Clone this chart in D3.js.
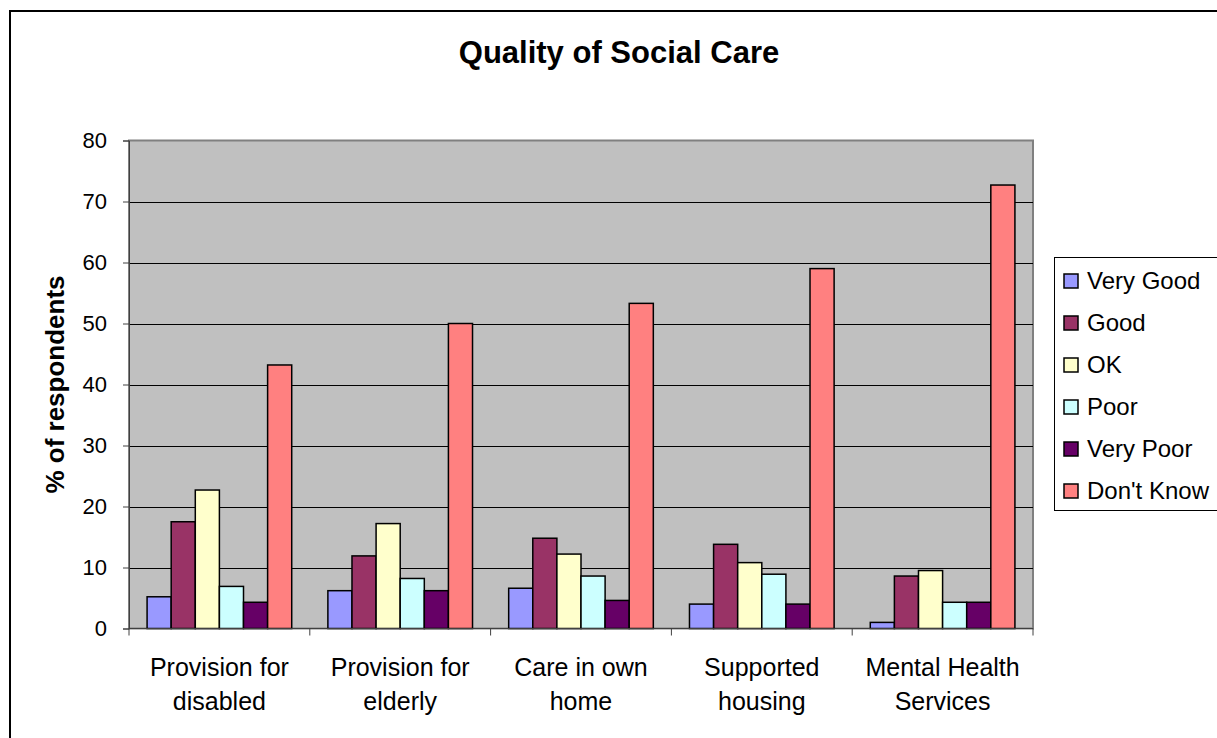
<!DOCTYPE html>
<html>
<head>
<meta charset="utf-8">
<script src="https://cdn.jsdelivr.net/npm/d3@7"></script>
<style>
	body { margin: 0; background: white; }
	svg { display: block; font-family: 'Liberation Sans', Arial, sans-serif; }
</style>
</head>
<body>
<svg width="1217" height="738"></svg>
<script>
// categories, split in two lines like the original labels
let categories = [
	['Provision for', 'disabled'],
	['Provision for', 'elderly'],
	['Care in own', 'home'],
	['Supported', 'housing'],
	['Mental Health', 'Services']
];
let seriesNames = ['Very Good', 'Good', 'OK', 'Poor', 'Very Poor', "Don't Know"];

let veryGood = [5.2, 6.2, 6.6, 4.0, 1.0];
let good = [17.5, 11.9, 14.8, 13.8, 8.6];
let ok = [22.7, 17.2, 12.2, 10.8, 9.5];
let poor = [6.9, 8.2, 8.6, 8.9, 4.3];
let veryPoor = [4.3, 6.2, 4.6, 4.0, 4.3];
let dontKnow = [43.2, 50.0, 53.3, 59.0, 72.7];

let yTicks = [0, 10, 20, 30, 40, 50, 60, 70, 80];

let seriesColor = {
	'Very Good': '#9999FF',
	'Good': '#993366',
	'OK': '#FFFFCC',
	'Poor': '#CCFFFF',
	'Very Poor': '#660066',
	"Don't Know": '#FF8080'
};

let seriesValues = [veryGood, good, ok, poor, veryPoor, dontKnow];
let catKeys = categories.map(c => c.join(' '));

let data = [];
catKeys.map(function(cat, i) {
	seriesNames.map(function(s, j) {
		data.push({ cat: cat, series: s, value: seriesValues[j][i] });
	});
});

let svg = d3.select('svg');

// outer chart frame
svg.append('rect')
	.attr('x', 10)
	.attr('y', 11)
	.attr('width', 1240)
	.attr('height', 760)
	.attr('fill', 'white')
	.attr('stroke', 'black')
	.attr('stroke-width', 2);

let pLeft = 129, pRight = 1033, pTop = 140.5, pBottom = 628.5;

let x0 = d3.scaleBand()
	.domain(catKeys)
	.range([pLeft, pRight])
	.padding(0);

let x1 = d3.scaleBand()
	.domain(seriesNames)
	.range([0, x0.bandwidth()])
	.paddingInner(0)
	.paddingOuter(0.75);

let y = d3.scaleLinear()
	.domain([0, 80])
	.range([pBottom, pTop]);

// plot area
svg.append('rect')
	.attr('x', pLeft)
	.attr('y', pTop)
	.attr('width', pRight - pLeft)
	.attr('height', pBottom - pTop)
	.attr('fill', '#C0C0C0')
	.attr('stroke', '#808080')
	.attr('stroke-width', 2);

// gridlines
svg.append('g')
	.selectAll('line')
	.data(yTicks.filter(t => t > 0 && t < 80))
	.enter()
	.append('line')
	.attr('x1', pLeft)
	.attr('x2', pRight)
	.attr('y1', d => Math.round(y(d)) + 0.5)
	.attr('y2', d => Math.round(y(d)) + 0.5)
	.attr('stroke', 'black')
	.attr('stroke-width', 1);

// bars
svg.append('g')
	.selectAll('rect')
	.data(data)
	.enter()
	.append('rect')
	.attr('x', d => x0(d.cat) + x1(d.series))
	.attr('y', d => y(d.value))
	.attr('width', x1.bandwidth())
	.attr('height', d => y(0) - y(d.value))
	.attr('fill', d => seriesColor[d.series])
	.attr('stroke', 'black')
	.attr('stroke-width', 1.5);

// y axis
let yAxis = d3.axisLeft(y)
	.tickValues(yTicks)
	.tickSize(6)
	.tickPadding(16)
	.tickFormat(d3.format('d'));

let yg = svg.append('g')
	.attr('transform', 'translate(' + pLeft + ', 0)')
	.call(yAxis);
yg.select('.domain').attr('stroke', '#404040').attr('stroke-width', 1);
yg.selectAll('.tick line').attr('stroke', '#404040');
yg.selectAll('.tick text')
	.attr('font-size', 22)
	.attr('fill', 'black')
	.attr('font-family', "'Liberation Sans', Arial, sans-serif");

// x axis: ticks between categories
let xg = svg.append('g');
xg.append('line')
	.attr('x1', pLeft)
	.attr('x2', pRight)
	.attr('y1', pBottom)
	.attr('y2', pBottom)
	.attr('stroke', '#404040');
xg.selectAll('.xtick')
	.data(catKeys.concat(['end']))
	.enter()
	.append('line')
	.attr('x1', (d, i) => pLeft + i * x0.step())
	.attr('x2', (d, i) => pLeft + i * x0.step())
	.attr('y1', pBottom)
	.attr('y2', pBottom + 7)
	.attr('stroke', '#404040');

let xl = xg.selectAll('.xlab')
	.data(categories)
	.enter()
	.append('text')
	.attr('text-anchor', 'middle')
	.attr('font-size', 25)
	.attr('fill', 'black');
xl.append('tspan')
	.attr('x', (d, i) => x0(catKeys[i]) + x0.bandwidth() / 2)
	.attr('y', 676)
	.text(d => d[0]);
xl.append('tspan')
	.attr('x', (d, i) => x0(catKeys[i]) + x0.bandwidth() / 2)
	.attr('y', 710)
	.text(d => d[1]);

// title
svg.append('text')
	.attr('x', 619)
	.attr('y', 63)
	.attr('text-anchor', 'middle')
	.attr('font-size', 31)
	.attr('font-weight', 'bold')
	.text('Quality of Social Care');

// y label
svg.append('text')
	.attr('transform', 'translate(64, ' + ((pTop + pBottom) / 2) + ') rotate(-90)')
	.attr('text-anchor', 'middle')
	.attr('font-size', 26)
	.attr('font-weight', 'bold')
	.text('% of respondents');

// legend
let legend = svg.append('g');
legend.append('rect')
	.attr('x', 1054.5)
	.attr('y', 257.5)
	.attr('width', 200)
	.attr('height', 253)
	.attr('fill', 'white')
	.attr('stroke', 'black')
	.attr('stroke-width', 1);

let legendY = d3.scalePoint()
	.domain(seriesNames)
	.range([280, 490]);

legend.selectAll('.swatch')
	.data(seriesNames)
	.enter()
	.append('rect')
	.attr('x', 1064)
	.attr('y', d => legendY(d) - 6)
	.attr('width', 14)
	.attr('height', 14)
	.attr('fill', d => seriesColor[d])
	.attr('stroke', 'black')
	.attr('stroke-width', 1.5);

legend.selectAll('.ltext')
	.data(seriesNames)
	.enter()
	.append('text')
	.attr('x', 1087)
	.attr('y', d => legendY(d) + 9)
	.attr('font-size', 24)
	.attr('fill', 'black')
	.text(d => d);
</script>
</body>
</html>
